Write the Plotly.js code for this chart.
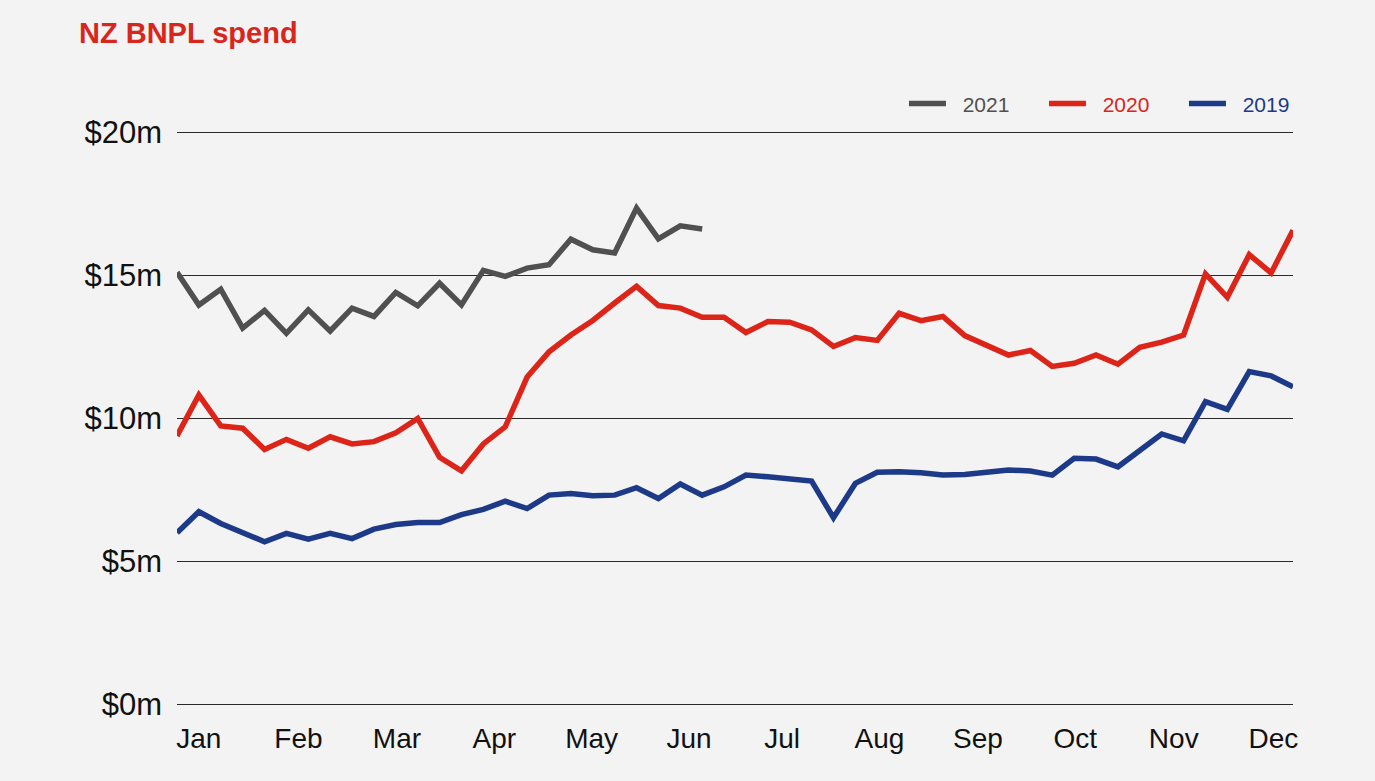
<!DOCTYPE html>
<html>
<head>
<meta charset="utf-8">
<script src="https://cdn.plot.ly/plotly-3.0.1.min.js"></script>
<style>
html,body{margin:0;padding:0;background:#f3f3f3;}
#chart{width:1375px;height:781px;}
</style>
</head>
<body>
<div id="chart"></div>
<script>
// Weekly NZ BNPL spend ($m)
const series2021 = [15.11, 13.97, 14.52, 13.16, 13.78, 12.98, 13.80, 13.06, 13.86, 13.57, 14.41, 13.94, 14.73, 13.97, 15.18, 14.97, 15.26, 15.38, 16.27, 15.90, 15.79, 17.36, 16.28, 16.74, 16.63];
const series2020 = [9.39, 10.82, 9.74, 9.66, 8.92, 9.27, 8.96, 9.36, 9.11, 9.19, 9.50, 10.0, 8.64, 8.17, 9.11, 9.71, 11.45, 12.33, 12.92, 13.43, 14.04, 14.62, 13.95, 13.86, 13.54, 13.54, 13.01, 13.39, 13.37, 13.10, 12.52, 12.83, 12.73, 13.68, 13.42, 13.57, 12.90, 12.55, 12.22, 12.38, 11.82, 11.93, 12.22, 11.90, 12.49, 12.67, 12.92, 15.06, 14.24, 15.73, 15.09, 16.58];
const series2019 = [6.00, 6.74, 6.33, 6.00, 5.69, 5.98, 5.78, 5.98, 5.80, 6.13, 6.29, 6.36, 6.36, 6.64, 6.82, 7.11, 6.85, 7.32, 7.38, 7.30, 7.32, 7.58, 7.20, 7.71, 7.32, 7.61, 8.02, 7.96, 7.88, 7.81, 6.53, 7.73, 8.12, 8.14, 8.10, 8.02, 8.04, 8.14, 8.20, 8.16, 8.02, 8.61, 8.58, 8.31, 8.87, 9.46, 9.22, 10.59, 10.32, 11.64, 11.49, 11.11];
const seriesNames = ['2021', '2020', '2019'];
const monthLabels = ['Jan', 'Feb', 'Mar', 'Apr', 'May', 'Jun', 'Jul', 'Aug', 'Sep', 'Oct', 'Nov', 'Dec'];
const monthTickWeeks = [1.0, 5.55, 10.05, 14.5, 18.95, 23.4, 27.65, 32.1, 36.6, 41.05, 45.55, 50.1];
const yTickValues = [0, 5, 10, 15, 20];

const colors = ['#505050', '#dc2418', '#1c3a87'];
const FONT = 'Liberation Sans, Arial, Helvetica, sans-serif';

function weeks(arr) { return arr.map((_, i) => i); }

const allSeries = [series2021, series2020, series2019];
const traces = allSeries.map((s, k) => ({
  type: 'scatter',
  mode: 'lines',
  x: weeks(s),
  y: s,
  name: '\u00a0\u00a0<span style="color:' + colors[k] + '">' + seriesNames[k] + '</span>',
  line: {color: colors[k], width: 5.5, shape: 'linear'},
  cliponaxis: false,
  hoverinfo: 'x+y'
}));

const layout = {
  width: 1375,
  height: 781,
  paper_bgcolor: '#f3f3f3',
  plot_bgcolor: '#f3f3f3',
  margin: {l: 177, r: 82, t: 124, b: 68, pad: 0},
  font: {family: FONT, color: '#111111'},
  title: {
    text: '<b>NZ BNPL spend</b>',
    font: {family: FONT, size: 29, color: '#d9261c'},
    xref: 'container', yref: 'container',
    x: 79 / 1375, xanchor: 'left',
    y: 1 - 33 / 781, yanchor: 'middle'
  },
  showlegend: true,
  legend: {
    orientation: 'h',
    x: 0.6514, xanchor: 'left',
    y: 1.034, yanchor: 'middle',
    font: {family: FONT, size: 21, color: '#505050'},
    bgcolor: 'rgba(0,0,0,0)',
    traceorder: 'normal',
    itemwidth: 37,
    entrywidth: 88,
    entrywidthmode: 'pixels'
  },
  xaxis: {
    range: [0, 51],
    tickmode: 'array',
    tickvals: monthTickWeeks,
    ticktext: monthLabels,
    showgrid: false,
    zeroline: false,
    showline: false,
    ticks: '',
    ticklabelstandoff: 6,
    tickfont: {family: FONT, size: 28, color: '#111111'},
    fixedrange: true
  },
  yaxis: {
    range: [-0.3, 20.3],
    tickmode: 'array',
    tickvals: yTickValues,
    ticktext: yTickValues.map(v => '$' + v + 'm'),
    showgrid: true,
    gridcolor: '#2a2a2a',
    gridwidth: 1,
    zeroline: false,
    showline: false,
    ticks: '',
    ticklabelstandoff: 14,
    tickfont: {family: FONT, size: 31, color: '#111111'},
    fixedrange: true
  }
};

Plotly.newPlot('chart', traces, layout, {displayModeBar: false, staticPlot: true});
</script>
</body>
</html>
